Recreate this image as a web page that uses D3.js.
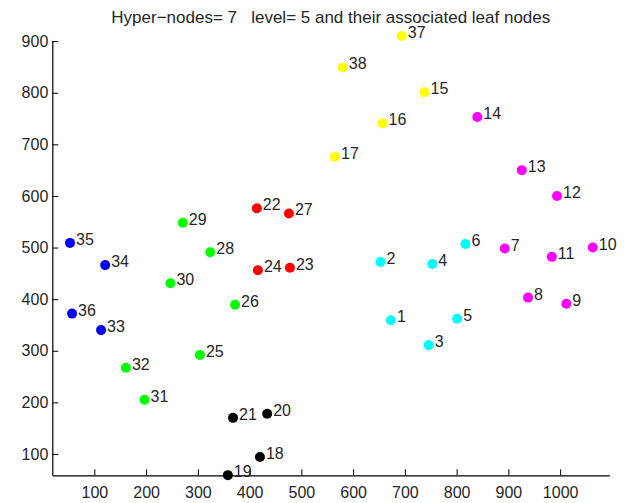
<!DOCTYPE html>
<html>
<head>
<meta charset="utf-8">
<script src="https://cdn.jsdelivr.net/npm/d3@7"></script>
<style>
  html, body { margin: 0; padding: 0; background: #fff; }
  svg { display: block; font-family: "Liberation Sans", Arial, sans-serif; }
  .title { white-space: pre; }
</style>
</head>
<body>
<svg id="chart" width="630" height="503"></svg>
<script>
// Leaf node ids with their coordinates and the hyper-node (group) each belongs to
const nodeIds = [1, 2, 3, 4, 5, 6,
                 7, 8, 9, 10, 11, 12, 13, 14,
                 15, 16, 17, 37, 38,
                 18, 19, 20, 21,
                 22, 23, 24, 27,
                 25, 26, 28, 29, 30, 31, 32,
                 33, 34, 35, 36];
const xValues = [673, 653, 746, 753, 801, 817,
                 893, 938, 1012, 1063, 984, 994, 926, 840,
                 738, 657, 565, 694, 580,
                 420, 358, 434, 368,
                 414, 478, 416, 476,
                 304, 372, 324, 271, 247, 197, 161,
                 113, 121, 53, 57];
const yValues = [359, 472, 311, 468, 362, 507,
                 498, 403, 391, 500, 482, 600, 650, 753,
                 801, 741, 676, 910, 849,
                 94, 59, 178, 170,
                 576, 461, 456, 566,
                 292, 389, 491, 548, 431, 205, 267,
                 340, 466, 509, 372];
const groups  = [0, 0, 0, 0, 0, 0,
                 1, 1, 1, 1, 1, 1, 1, 1,
                 2, 2, 2, 2, 2,
                 3, 3, 3, 3,
                 4, 4, 4, 4,
                 5, 5, 5, 5, 5, 5, 5,
                 6, 6, 6, 6];
const groupColors = ["#00ffff", "#ff00ff", "#ffff00", "#000000", "#ff0000", "#00ff00", "#0000ff"];

const xTicks = [100, 200, 300, 400, 500, 600, 700, 800, 900, 1000];
const yTicks = [100, 200, 300, 400, 500, 600, 700, 800, 900];
const xLimits = [18.8, 1095];
const yLimits = [58.7, 901];

const hyperNodes = 7, level = 5;
const title = `Hyper\u2212nodes= ${hyperNodes}   level= ${level} and their associated leaf nodes`;

const nodes = nodeIds.map((id, i) => ({ id, x: xValues[i], y: yValues[i], g: groups[i] }));

const svg = d3.select("#chart");
const plot = { left: 52.3, right: 609.3, top: 40.6, bottom: 475.3 };

const x = d3.scaleLinear().domain(xLimits).range([plot.left, plot.right]);
const y = d3.scaleLinear().domain(yLimits).range([plot.bottom, plot.top]);

const textColor = "#262626";
const plain = d3.format("d");

// Bottom axis, ticks pointing into the plot
const xAxis = svg.append("g")
  .attr("transform", `translate(0,${plot.bottom})`)
  .call(d3.axisBottom(x).tickValues(xTicks).tickFormat(plain)
    .tickSizeInner(-6).tickSizeOuter(0).tickPadding(11));

// Left axis, ticks pointing into the plot
const yAxis = svg.append("g")
  .attr("transform", `translate(${plot.left},0)`)
  .call(d3.axisLeft(y).tickValues(yTicks).tickFormat(plain)
    .tickSizeInner(-6).tickSizeOuter(0).tickPadding(4));

[xAxis, yAxis].forEach(a => {
  a.select(".domain").attr("stroke", "#000").attr("stroke-width", 1.2);
  a.selectAll(".tick line").attr("stroke", "#000").attr("stroke-width", 1);
  a.selectAll(".tick text").attr("fill", textColor).attr("font-size", 16)
    .attr("font-family", "Liberation Sans, Arial, sans-serif");
});
yAxis.selectAll(".tick text").attr("x", -4);

// Node markers
svg.append("g").selectAll("circle")
  .data(nodes)
  .join("circle")
  .attr("cx", d => x(d.x))
  .attr("cy", d => y(d.y))
  .attr("r", 5)
  .attr("fill", d => groupColors[d.g]);

// Node id labels to the upper right of each marker
svg.append("g").selectAll("text")
  .data(nodes)
  .join("text")
  .attr("x", d => x(d.x) + 6)
  .attr("y", d => y(d.y) + 2)
  .attr("font-size", 16)
  .attr("fill", textColor)
  .text(d => d.id);

// Title
svg.append("text")
  .attr("class", "title")
  .attr("x", (plot.left + plot.right) / 2)
  .attr("y", 23)
  .attr("text-anchor", "middle")
  .attr("font-size", 17)
  .attr("fill", textColor)
  .text(title);
</script>
</body>
</html>
